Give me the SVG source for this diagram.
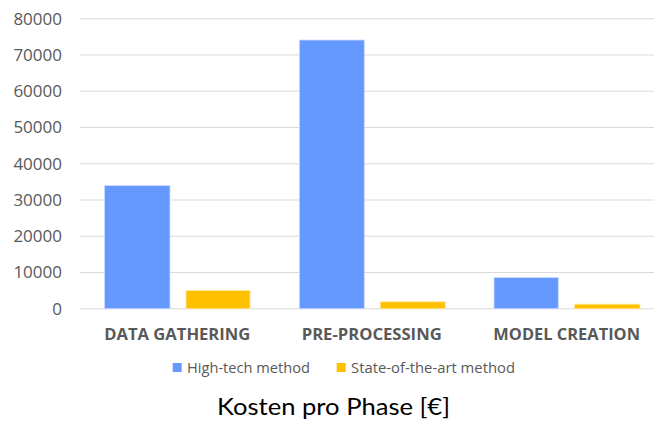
<svg xmlns="http://www.w3.org/2000/svg" width="654" height="421" viewBox="0 0 654 421">
  <style>
    .grid { stroke: #d9d9d9; stroke-width: 1.2; }
    .tick { font-family: "Open Sans", "Noto Sans", sans-serif; font-size: 17px; fill: #595959; text-anchor: end; }
    .cat { font-family: "Open Sans", "Noto Sans", sans-serif; font-size: 16.5px; font-weight: bold; fill: #595959; text-anchor: middle; }
    .leg { font-family: "Open Sans", "Noto Sans", sans-serif; font-size: 14.7px; fill: #595959; }
    .title { font-family: "Lato", "Liberation Sans", sans-serif; font-size: 24px; fill: #000000; text-anchor: middle; }
    .hi { fill: #6699ff; stroke: #ccdcff; stroke-width: 0.8; }
    .sa { fill: #ffc000; stroke: #ffe699; stroke-width: 0.8; }
  </style>
  <rect width="654" height="421" fill="#ffffff"/>

  <!-- horizontal gridlines every 10000 -->
  <g id="gridlines">
    <line class="grid" x1="80" y1="18.75" x2="654" y2="18.75"/>
    <line class="grid" x1="80" y1="55" x2="654" y2="55"/>
    <line class="grid" x1="80" y1="91.25" x2="654" y2="91.25"/>
    <line class="grid" x1="80" y1="127.5" x2="654" y2="127.5"/>
    <line class="grid" x1="80" y1="163.75" x2="654" y2="163.75"/>
    <line class="grid" x1="80" y1="200" x2="654" y2="200"/>
    <line class="grid" x1="80" y1="236.25" x2="654" y2="236.25"/>
    <line class="grid" x1="80" y1="272.5" x2="654" y2="272.5"/>
    <line class="grid" x1="80" y1="308.75" x2="654" y2="308.75"/>
  </g>

  <!-- value axis labels -->
  <g id="y-axis">
    <text class="tick" x="62" y="24.5">80000</text>
    <text class="tick" x="62" y="60.75">70000</text>
    <text class="tick" x="62" y="97">60000</text>
    <text class="tick" x="62" y="133.25">50000</text>
    <text class="tick" x="62" y="169.5">40000</text>
    <text class="tick" x="62" y="205.75">30000</text>
    <text class="tick" x="62" y="242">20000</text>
    <text class="tick" x="62" y="278.25">10000</text>
    <text class="tick" x="62" y="314.5">0</text>
  </g>

  <!-- bars -->
  <g id="data-gathering">
    <rect class="hi" x="104.5" y="185.5" width="65.5" height="123.25"/>
    <rect class="sa" x="186" y="290.6" width="64" height="18.15"/>
    <text class="cat" x="177.3" y="340" textLength="146" lengthAdjust="spacingAndGlyphs">DATA GATHERING</text>
  </g>
  <g id="pre-processing">
    <rect class="hi" x="299.3" y="40" width="65" height="268.75"/>
    <rect class="sa" x="380.3" y="301.8" width="65" height="6.95"/>
    <text class="cat" x="371.7" y="340" textLength="140" lengthAdjust="spacingAndGlyphs">PRE-PROCESSING</text>
  </g>
  <g id="model-creation">
    <rect class="hi" x="494" y="277.5" width="64.3" height="31.25"/>
    <rect class="sa" x="574.5" y="304.2" width="65.5" height="4.55"/>
    <text class="cat" x="566.7" y="340" textLength="146.7" lengthAdjust="spacingAndGlyphs">MODEL CREATION</text>
  </g>

  <!-- legend -->
  <g id="legend">
    <rect x="172.7" y="363" width="9" height="9" fill="#6699ff"/>
    <text class="leg" x="187" y="373" textLength="123" lengthAdjust="spacingAndGlyphs">High-tech method</text>
    <rect x="336.7" y="363" width="9" height="9" fill="#ffc000"/>
    <text class="leg" x="351" y="373" textLength="164" lengthAdjust="spacingAndGlyphs">State-of-the-art method</text>
  </g>

  <g id="title">
    <text class="title" x="333.5" y="415" textLength="233" lengthAdjust="spacingAndGlyphs">Kosten pro Phase [€]</text>
  </g>
</svg>
